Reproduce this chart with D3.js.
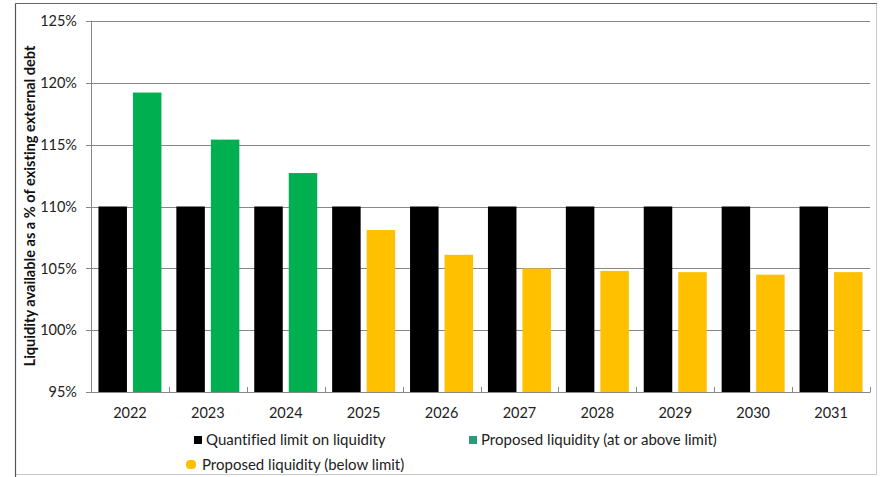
<!DOCTYPE html>
<html>
<head>
<meta charset="utf-8">
<script src="https://cdn.jsdelivr.net/npm/d3@7"></script>
<style>
  html, body { margin: 0; padding: 0; background: #fff; }
  svg { display: block; font-family: Lato, "Open Sans", sans-serif; font-variant-ligatures: none; }
</style>
</head>
<body>
<svg id="chart" width="886" height="477"></svg>
<script>
// Liquidity available as a % of existing external debt, by year
const years = ["2022", "2023", "2024", "2025", "2026", "2027", "2028", "2029", "2030", "2031"];
const limitValues = [110, 110, 110, 110, 110, 110, 110, 110, 110, 110];
const proposedValues = [119.2, 115.4, 112.7, 108.1, 106.1, 105.0, 104.8, 104.7, 104.5, 104.7];
const yTicks = [95, 100, 105, 110, 115, 120, 125];
const legendLabels = [
  "Quantified limit on liquidity",
  "Proposed liquidity (at or above limit)",
  "Proposed liquidity (below limit)"
];
const axisTitle = "Liquidity available as a % of existing external debt";

const colBlack = "#000000";
const colGreen = "#00b050";
const colYellow = "#ffc000";
const colLegendGreen = "#2a9a78";
const gridColor = "#878787";

const svg = d3.select("#chart");
const plot = { left: 91, right: 870, top: 20.7, bottom: 392.3 };

// outer chart frame
svg.append("rect")
  .attr("x", 15.5).attr("y", 3.5)
  .attr("width", 861).attr("height", 471)
  .attr("fill", "#fff").attr("stroke", "#c8c8c8").attr("stroke-width", 1);
svg.append("line")
  .attr("x1", 15.5).attr("x2", 15.5).attr("y1", 3.5).attr("y2", 477)
  .attr("stroke", "#555").attr("stroke-width", 1.2);
svg.append("line")
  .attr("x1", 15.5).attr("x2", 877).attr("y1", 3.5).attr("y2", 3.5)
  .attr("stroke", "#666").attr("stroke-width", 1.2);

const x = d3.scaleBand().domain(years).range([plot.left, plot.right]).padding(0);
const y = d3.scaleLinear().domain([95, 125]).range([plot.bottom, plot.top]);

// horizontal gridlines with short outward ticks
svg.append("g").selectAll("line")
  .data(yTicks)
  .join("line")
  .attr("x1", plot.left - 5)
  .attr("x2", plot.right)
  .attr("y1", d => Math.round(y(d)) + 0.5)
  .attr("y2", d => Math.round(y(d)) + 0.5)
  .attr("stroke", gridColor)
  .attr("stroke-width", 1);

// y tick labels
svg.append("g").selectAll("text")
  .data(yTicks)
  .join("text")
  .attr("x", plot.left - 14)
  .attr("y", d => y(d))
  .attr("dy", "0.35em")
  .attr("text-anchor", "end")
  .attr("font-size", 14.5)
  .attr("fill", "#222")
  .text(d => d + "%");

// grouped bars: limit (black) and proposed (green at/above limit, yellow below)
const pairW = 63;
const barW = 28.5;
const gap = 6;
const bars = svg.append("g");
years.forEach((yr, i) => {
  const x0 = x(yr) + (x.bandwidth() - pairW) / 2;
  bars.append("rect")
    .attr("x", x0)
    .attr("y", y(limitValues[i]))
    .attr("width", barW)
    .attr("height", y(95) - y(limitValues[i]))
    .attr("fill", colBlack);
  bars.append("rect")
    .attr("x", x0 + barW + gap)
    .attr("y", y(proposedValues[i]))
    .attr("width", barW)
    .attr("height", y(95) - y(proposedValues[i]))
    .attr("fill", proposedValues[i] >= limitValues[i] ? colGreen : colYellow);
});

// axis lines
svg.append("line")
  .attr("x1", plot.left + 0.5).attr("x2", plot.left + 0.5)
  .attr("y1", plot.top).attr("y2", plot.bottom)
  .attr("stroke", gridColor).attr("stroke-width", 1);
svg.append("line")
  .attr("x1", plot.left - 5).attr("x2", plot.right)
  .attr("y1", Math.round(plot.bottom) + 0.5).attr("y2", Math.round(plot.bottom) + 0.5)
  .attr("stroke", gridColor).attr("stroke-width", 1);

// category boundary ticks
svg.append("g").selectAll("line")
  .data(years.map(d => x(d)).concat([plot.right]))
  .join("line")
  .attr("x1", d => Math.round(d) + 0.5)
  .attr("x2", d => Math.round(d) + 0.5)
  .attr("y1", Math.round(plot.bottom) + 0.5)
  .attr("y2", Math.round(plot.bottom) - 5)
  .attr("stroke", gridColor).attr("stroke-width", 1);

// x labels
svg.append("g").selectAll("text")
  .data(years)
  .join("text")
  .attr("x", d => x(d) + x.bandwidth() / 2)
  .attr("y", 413)
  .attr("dy", "0.35em")
  .attr("text-anchor", "middle")
  .attr("font-size", 14.5)
  .attr("fill", "#222")
  .text(d => d);

// y axis title
svg.append("text")
  .attr("transform", `translate(35,206) rotate(-90)`)
  .attr("text-anchor", "middle")
  .attr("font-size", 14.6)
  .attr("font-weight", "bold")
  .attr("fill", "#111")
  .text(axisTitle);

// legend
const legendItems = [
  { label: legendLabels[0], color: colBlack, mx: 194, ty: 440, shape: "square" },
  { label: legendLabels[1], color: colLegendGreen, mx: 469, ty: 440, shape: "square" },
  { label: legendLabels[2], color: colYellow, mx: 186, ty: 465, shape: "round" }
];
const lg = svg.append("g");
legendItems.forEach(it => {
  if (it.shape === "square") {
    lg.append("rect")
      .attr("x", it.mx).attr("y", it.ty - 4)
      .attr("width", 8).attr("height", 8)
      .attr("fill", it.color);
  } else {
    lg.append("rect")
      .attr("x", it.mx).attr("y", it.ty - 5)
      .attr("width", 10).attr("height", 9)
      .attr("rx", 4)
      .attr("fill", it.color);
  }
  lg.append("text")
    .attr("x", it.mx + (it.shape === "square" ? 12 : 16))
    .attr("y", it.ty)
    .attr("dy", "0.35em")
    .attr("font-size", 15)
    .attr("fill", "#222")
    .text(it.label);
});
</script>
</body>
</html>
